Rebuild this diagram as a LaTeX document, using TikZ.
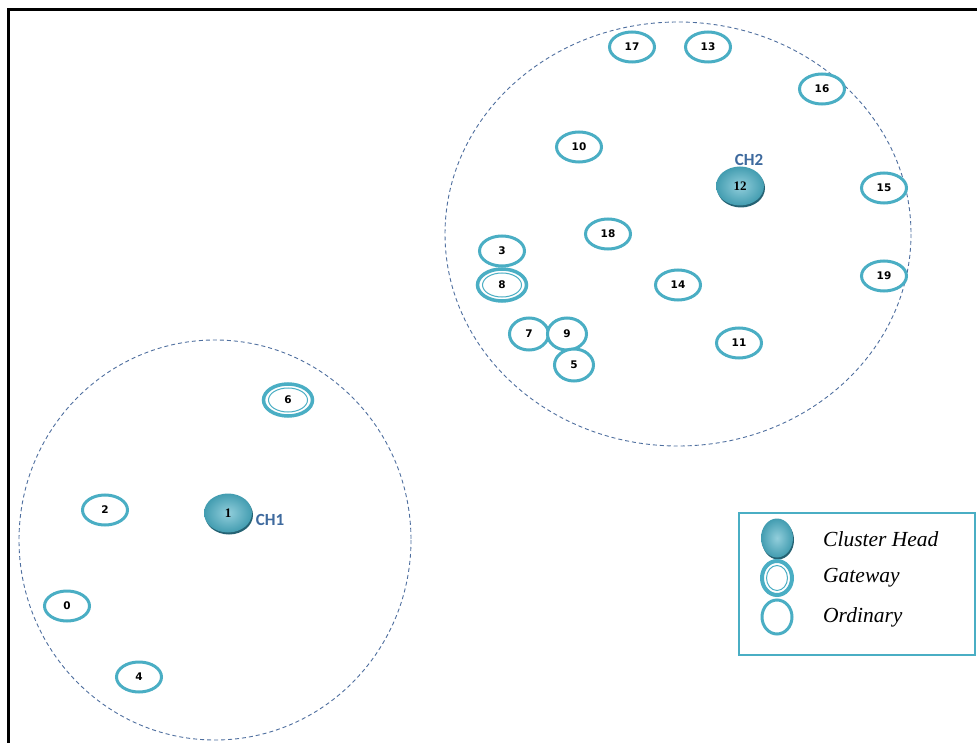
\documentclass[tikz,border=0pt]{standalone}
\usepackage{fontspec}
\setmainfont{Liberation Serif}
\newfontfamily\numfont{DejaVu Sans}
\newfontfamily\chfont{Carlito}
\usetikzlibrary{shapes.geometric}
\definecolor{aqua}{HTML}{4AAEC4}
\definecolor{aquadark}{HTML}{2E7A90}
\definecolor{dashblue}{HTML}{4F6F9F}
\definecolor{chtext}{HTML}{3E6A9E}
\tikzset{
  ordinary/.style={ellipse, draw=aqua, line width=3pt, minimum width=45pt,
    minimum height=30pt, inner sep=0pt, fill=white,
    font=\numfont\bfseries\fontsize{10.5}{10.5}\selectfont},
  gateway/.style={ordinary, line width=3.5pt, minimum width=49pt, minimum height=32pt},
  clusterhead/.style={ellipse, minimum width=48pt, minimum height=39pt, inner sep=0pt,
    inner color=aqua!60!white, outer color=aqua!90!black,
    preaction={fill=aquadark!80!black, transform canvas={yshift=-2pt, xshift=1pt}},
    font=\bfseries\fontsize{13}{13}\selectfont},
  chlabel/.style={font=\chfont\bfseries\fontsize{17}{17}\selectfont, text=chtext, inner sep=0pt},
  cluster/.style={draw=dashblue, line width=0.9pt, dash pattern=on 4pt off 3pt},
  legendtext/.style={font=\itshape\fontsize{21.5}{21.5}\selectfont, anchor=west, inner sep=0pt},
}
\begin{document}
\begin{tikzpicture}[x=1pt,y=-1pt]
\useasboundingbox (0,0) rectangle (977,743);
\fill[white] (0,0) rectangle (977,743);

% frame
\draw[line width=3pt] (8.5,745) -- (8.5,9.5) -- (980,9.5);

% cluster boundaries
\draw[cluster] (678,234) ellipse (233 and 212);
\draw[cluster] (215,540) ellipse (196 and 200);

% cluster 2 members
\node[ordinary] (n17) at (632,47) {17};
\node[ordinary] (n13) at (708,47) {13};
\node[ordinary] (n16) at (822,89) {16};
\node[ordinary] (n10) at (579,147) {10};
\node[ordinary] (n15) at (884,188) {15};
\node[ordinary] (n18) at (608,234) {18};
\node[ordinary] (n3)  at (502,251) {3};
\node[gateway]  (n8)  at (502,285) {8};
\draw[aqua, line width=1pt] (n8.center) ellipse (19.5 and 12);
\node[ordinary] (n14) at (678,285) {14};
\node[ordinary] (n19) at (884,276) {19};
\node[ordinary, minimum width=39pt, minimum height=32pt] (n7) at (529,334) {7};
\node[ordinary, minimum width=39pt, minimum height=32pt] (n9) at (567,334) {9};
\node[ordinary, minimum width=39pt, minimum height=32pt] (n5) at (574,365) {5};
\node[ordinary] (n11) at (739,343) {11};
\node[clusterhead] (n12) at (740,186) {12};
\node[chlabel] (ch2) at (749,160) {CH2};

% cluster 1 members
\node[gateway] (n6) at (288,400) {6};
\draw[aqua, line width=1pt] (n6.center) ellipse (19.5 and 12);
\node[ordinary] (n2) at (105,510) {2};
\node[ordinary] (n0) at (67,606) {0};
\node[ordinary] (n4) at (139,677) {4};
\node[clusterhead] (n1) at (228,513) {1};
\node[chlabel] (ch1) at (270,520) {CH1};

% legend
\node[draw=aqua, line width=2pt, minimum width=236pt, minimum height=142pt, inner sep=0pt]
  (legend) at (857,584) {};
\node[clusterhead, minimum width=32pt, minimum height=39pt] (lch) at (777,538) {};
\node[gateway, minimum width=30pt, minimum height=34pt, line width=4pt] (lgw) at (777,578) {};
\draw[aqua, line width=1pt] (lgw.center) ellipse (10.5 and 12.5);
\node[ordinary, minimum width=30pt, minimum height=34pt] (lord) at (777,617) {};
\node[legendtext] (tch) at (823,539) {Cluster Head};
\node[legendtext] (tgw) at (823,578) {Gateway};
\node[legendtext] (tord) at (823,617) {Ordinary};
\end{tikzpicture}
\end{document}
